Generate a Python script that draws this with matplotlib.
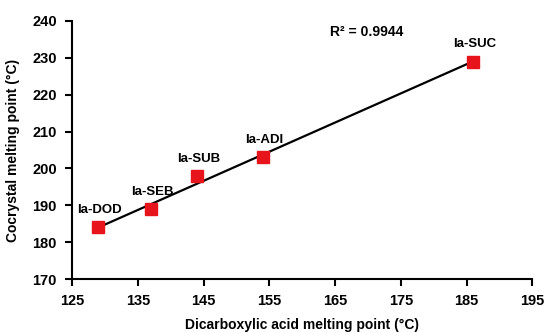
import numpy as np
import matplotlib.pyplot as plt

plt.rcParams['font.family'] = ['Liberation Sans', 'DejaVu Sans']
plt.rcParams['font.weight'] = 'bold'

# data
names = ['Ia-DOD', 'Ia-SEB', 'Ia-SUB', 'Ia-ADI', 'Ia-SUC']
acid_mp = np.array([129, 137, 144, 154, 186])
cocrystal_mp = np.array([184, 189, 198, 203, 229])

# linear fit
slope, intercept = np.polyfit(acid_mp, cocrystal_mp, 1)
r2 = np.corrcoef(acid_mp, cocrystal_mp)[0, 1] ** 2

fig = plt.figure(figsize=(5.47, 3.33), dpi=100)
ax = fig.add_axes([0.132, 0.162, 0.841, 0.775])

xfit = np.array([acid_mp.min(), acid_mp.max()])
ax.plot(xfit, slope * xfit + intercept, color='black', lw=1.6, zorder=2)
ax.plot(acid_mp, cocrystal_mp, 's', color='#e8141c', markersize=8, zorder=3)

# labels above each point
for name, x, y in zip(names, acid_mp, cocrystal_mp):
    ax.annotate(name, (x, y), xytext=(1, 8), textcoords='offset points',
                ha='center', va='bottom', fontsize=9.5, fontweight='bold')

ax.text(164.3, 237, 'R\u00b2 = %.4f' % r2, fontsize=10,
        fontweight='bold', ha='left', va='center')

ax.set_xlim(125, 195)
ax.set_ylim(170, 240)
ax.set_xticks(np.arange(125, 196, 10))
ax.set_yticks(np.arange(170, 241, 10))

for side in ['top', 'right']:
    ax.spines[side].set_visible(False)
for side in ['left', 'bottom']:
    ax.spines[side].set_linewidth(1.5)
ax.tick_params(direction='out', length=5, width=1.5, labelsize=10.5, pad=6)
for lab in ax.get_xticklabels() + ax.get_yticklabels():
    lab.set_fontweight('bold')

ax.set_xlabel('Dicarboxylic acid melting point (\u00b0C)', fontsize=10, fontweight='bold', labelpad=7)
ax.set_ylabel('Cocrystal melting point (\u00b0C)', fontsize=10, fontweight='bold', labelpad=9)

fig.savefig('out.png', dpi=100)
